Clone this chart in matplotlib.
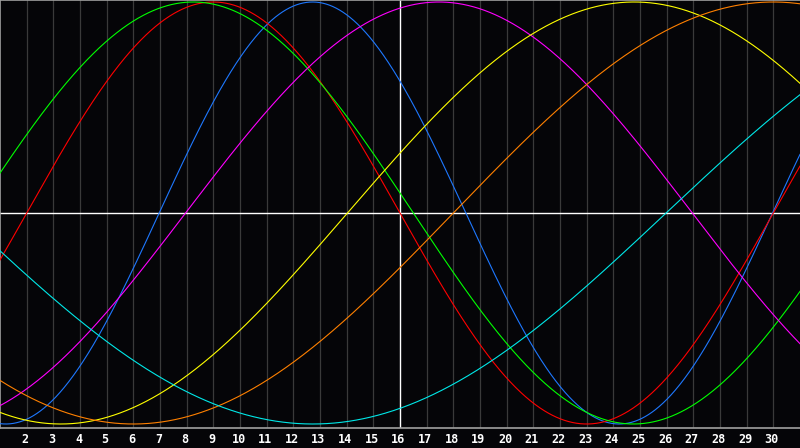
import numpy as np
import matplotlib
matplotlib.use("Agg")
import matplotlib.pyplot as plt
import matplotlib.transforms as mtransforms

# Cycle lengths (days) and day of the ascending zero crossing
periods = [23, 28, 33, 38, 43, 48, 53]
zero_days = [6.97, 2.0, 0.0, 7.96, 14.03, 18.0, 25.98]
colors = ["#1e78ff", "#ff0000", "#00ff00", "#ff00ff", "#ffff00", "#ff8000", "#00e8e8"]

day_labels = list(range(2, 31))
today = 16
first_day, last_day = 1, 31

fig = plt.figure(figsize=(8, 4.48), dpi=100)
fig.patch.set_facecolor("#050508")
ax = fig.add_axes([0, 20 / 448, 1, 428 / 448])
ax.set_facecolor("#050508")

ax.set_xlim(first_day, last_day)
ax.set_ylim(-(428 - 213) / 211, 213 / 211)

for d in day_labels:
    if d != today:
        ax.axvline(d, color="#3a3a3a", lw=0.9, zorder=1)

days = np.linspace(first_day, last_day, 1200)
for p, z, c in zip(periods, zero_days, colors):
    ax.plot(days, np.sin(2 * np.pi * (days - z) / p), color=c, lw=0.8, zorder=3)

ax.axhline(0, color="white", lw=1.0, zorder=2)
ax.axvline(today, color="white", lw=1.0, zorder=2)

for s in ["left", "top", "bottom"]:
    ax.spines[s].set_color("#a0a0a0")
    ax.spines[s].set_linewidth(1.2)
ax.spines["right"].set_visible(False)

ax.set_xticks(day_labels)
ax.set_xticklabels([str(d) for d in day_labels], color="white",
                   fontsize=8.5, fontweight="bold", family="DejaVu Sans Mono")
ax.tick_params(axis="x", length=0, pad=3.5)
ax.set_yticks([])
shift = mtransforms.ScaledTranslation(-1.5 / 100, 0, fig.dpi_scale_trans)
for lbl in ax.get_xticklabels():
    lbl.set_transform(lbl.get_transform() + shift)

fig.savefig("out.png", dpi=100, facecolor=fig.get_facecolor())
